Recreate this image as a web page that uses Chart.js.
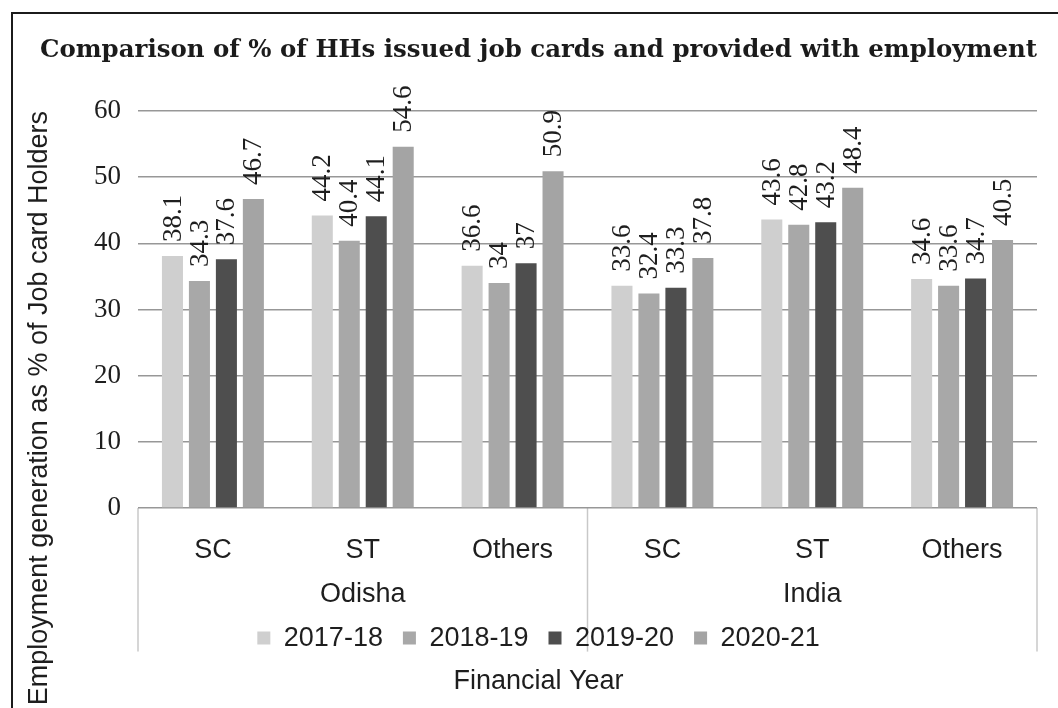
<!DOCTYPE html>
<html>
<head>
<meta charset="utf-8">
<title>Comparison of % of HHs issued job cards and provided with employment</title>
<script src="https://cdn.jsdelivr.net/npm/chart.js@4.4.1/dist/chart.umd.min.js"></script>
<style>
  html, body { margin: 0; padding: 0; background: #fff; overflow: hidden; }
  #wrap { position: relative; width: 1058px; height: 708px; }
  #frame { position: absolute; left: 11px; top: 12px; width: 1100px; height: 760px;
           border-left: 2px solid #1b1b1b; border-top: 2px solid #1b1b1b; pointer-events: none; }
</style>
</head>
<body>
<div id="wrap">
  <canvas id="chart" width="1058" height="708"></canvas>
  <div id="frame"></div>
</div>
<script>
const categories = ['SC', 'ST', 'Others', 'SC', 'ST', 'Others'];
const regions = ['Odisha', 'India'];
const years = ['2017-18', '2018-19', '2019-20', '2020-21'];
const fy2017 = [38.1, 44.2, 36.6, 33.6, 43.6, 34.6];
const fy2018 = [34.3, 40.4, 34, 32.4, 42.8, 33.6];
const fy2019 = [37.6, 44.1, 37, 33.3, 43.2, 34.7];
const fy2020 = [46.7, 54.6, 50.9, 37.8, 48.4, 40.5];
const yTicks = [0, 10, 20, 30, 40, 50, 60];

const barColors = ['#cfcfcf', '#a8a8a8', '#4e4e4e', '#a4a4a4'];
const ink = '#1e1e1e';

Chart.defaults.font.family = '"Liberation Sans", Arial, sans-serif';
Chart.defaults.color = ink;

// value above every bar, written bottom-to-top like the original
const barValueLabels = {
  id: 'barValueLabels',
  afterDatasetsDraw(chart) {
    const ctx = chart.ctx;
    ctx.save();
    ctx.font = '27px "Liberation Serif", "Times New Roman", serif';
    ctx.fillStyle = ink;
    ctx.textAlign = 'left';
    ctx.textBaseline = 'middle';
    chart.data.datasets.forEach((ds, i) => {
      chart.getDatasetMeta(i).data.forEach((bar, j) => {
        ctx.save();
        ctx.translate(bar.x, bar.y - 14);
        ctx.rotate(-Math.PI / 2);
        ctx.fillText(String(ds.data[j]), 0, 1);
        ctx.restore();
      });
    });
    ctx.restore();
  }
};

// light box round the two region groups under the axis
const groupFrame = {
  id: 'groupFrame',
  beforeDraw(chart) {
    const x = chart.scales.x;
    const ctx = chart.ctx;
    const top = chart.chartArea.bottom;
    const bottom = chart.legend.bottom - 10;
    const per = categories.length / regions.length;
    ctx.save();
    ctx.strokeStyle = '#c8c8c8';
    ctx.lineWidth = 1.5;
    for (let g = 0; g <= regions.length; g++) {
      let px;
      if (g === 0) px = x.left;
      else if (g === regions.length) px = x.right;
      else px = (x.getPixelForValue(g * per - 1) + x.getPixelForValue(g * per)) / 2;
      ctx.beginPath();
      ctx.moveTo(px, top);
      ctx.lineTo(px, bottom);
      ctx.stroke();
    }
    ctx.restore();
  }
};

const series = [fy2017, fy2018, fy2019, fy2020];

new Chart(document.getElementById('chart'), {
  type: 'bar',
  data: {
    labels: categories,
    datasets: years.map((y, i) => ({
      label: y,
      data: series[i],
      backgroundColor: barColors[i],
      borderWidth: 0,
      categoryPercentage: 0.72,
      barPercentage: 0.78
    }))
  },
  options: {
    responsive: false,
    animation: false,
    layout: { padding: { left: 40, right: 21, top: 0, bottom: 0 } },
    plugins: {
      title: {
        display: true,
        text: 'Comparison of % of HHs issued job cards and provided with employment',
        font: { family: '"DejaVu Serif", serif', weight: 'bold', size: 25 },
        color: '#1b1b1b',
        padding: { top: 35, bottom: 46 }
      },
      subtitle: {
        display: true,
        position: 'bottom',
        text: 'Financial Year',
        font: { size: 27 },
        color: ink,
        padding: { top: 4, bottom: 10 }
      },
      legend: {
        position: 'bottom',
        labels: { boxWidth: 13, boxHeight: 13, padding: 20, font: { size: 27 }, color: ink }
      },
      tooltip: { enabled: false }
    },
    scales: {
      x: {
        weight: 0,
        grid: { display: false, drawTicks: false },
        border: { display: false },
        ticks: { font: { size: 27 }, color: ink, padding: 26, maxRotation: 0, autoSkip: false },
        afterFit: (s) => { s.height = 66; }
      },
      x2: {
        type: 'category',
        labels: regions,
        position: 'bottom',
        weight: 1,
        offset: true,
        grid: { display: false, drawTicks: false },
        border: { display: false },
        ticks: { font: { size: 27 }, color: ink, padding: 4, maxRotation: 0 },
        afterFit: (s) => { s.height = 30.6; }
      },
      y: {
        min: yTicks[0],
        max: yTicks[yTicks.length - 1],
        afterBuildTicks: (s) => { s.ticks = yTicks.map(v => ({ value: v })); },
        ticks: { font: { family: '"Liberation Serif", "Times New Roman", serif', size: 27 }, color: ink, padding: 17 },
        grid: { color: '#979797', lineWidth: 1.5, drawTicks: false },
        border: { display: false },
        title: {
          display: true,
          text: 'Employment generation as % of Job card Holders',
          align: 'end',
          font: { size: 27, lineHeight: 1 },
          color: ink,
          padding: { top: -13.5, bottom: 23.5 }
        }
      }
    }
  },
  plugins: [groupFrame, barValueLabels]
});
</script>
</body>
</html>
